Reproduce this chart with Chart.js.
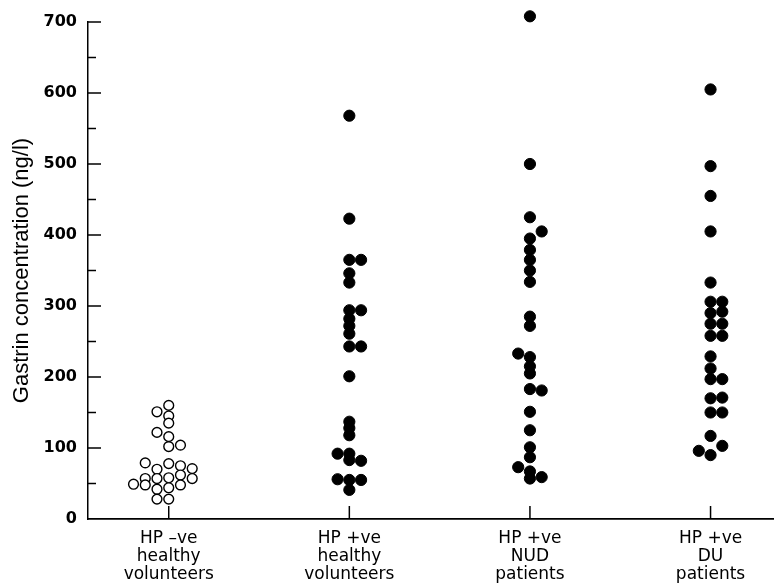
<!DOCTYPE html>
<html>
<head>
<meta charset="utf-8">
<script src="https://cdn.jsdelivr.net/npm/chart.js@4.4.0/dist/chart.umd.min.js"></script>
<style>
  body { margin: 0; background: #fff; }
  canvas { display: block; }
</style>
</head>
<body>
<canvas id="gastrinChart" width="780" height="584"></canvas>
<script>
// group labels (one entry per line)
const groupLabels = [
  ['HP \u2013ve', 'healthy', 'volunteers'],
  ['HP +ve', 'healthy', 'volunteers'],
  ['HP +ve', 'NUD', 'patients'],
  ['HP +ve', 'DU', 'patients']
];

// gastrin values (ng/l), with their column slot in the dot plot
const hpNegHealthy    = [160,151,145,135,122,116,102,104,79,78,75,70,71,62,57,57,58,57,49,48,48,42,44,28,28];
const hpNegHealthyCol = [0,-1,0,0,-1,0,0,1,-2,0,1,-1,2,1,-2,-1,0,2,-3,-2,1,-1,0,-1,0];

const hpPosHealthy    = [568,423,365,365,346,333,294,294,282,272,261,243,243,201,137,128,118,92,92,83,82,56,55,55,41];
const hpPosHealthyCol = [0,0,0,1,0,0,0,1,0,0,0,0,1,0,0,0,0,-1,0,0,1,-1,0,1,0];

const hpPosNud    = [708,500,425,405,395,379,365,350,334,285,272,233,228,215,205,183,181,151,125,101,87,73,67,57,59];
const hpPosNudCol = [0,0,0,1,0,0,0,0,0,0,0,-1,0,0,0,0,1,0,0,0,0,-1,0,0,1];

const hpPosDu    = [605,497,455,405,333,306,306,290,292,275,275,258,258,229,212,197,197,170,171,150,150,117,96,103,90];
const hpPosDuCol = [0,0,0,0,0,0,1,0,1,0,1,0,1,0,0,0,1,0,1,0,1,0,-1,1,0];

const yTicks = [0,100,200,300,400,500,600,700];

const slotWidth = 0.065;

function points(group, values, cols) {
  return values.map((v, i) => ({ x: group + cols[i] * slotWidth, y: v }));
}

const ink = '#000';

// short tick marks drawn inward from the axes
const tickMarks = {
  id: 'tickMarks',
  beforeDatasetsDraw(chart) {
    const { ctx, scales: { x, y } } = chart;
    ctx.save();
    ctx.strokeStyle = ink;
    ctx.lineWidth = 1.5;
    y.ticks.forEach(t => {
      if (t.value === 0) return;
      const py = y.getPixelForValue(t.value);
      const len = yTicks.includes(t.value) ? 13 : 8;
      ctx.beginPath();
      ctx.moveTo(x.left, py);
      ctx.lineTo(x.left + len, py);
      ctx.stroke();
    });
    x.ticks.forEach(t => {
      const px = x.getPixelForValue(t.value);
      ctx.beginPath();
      ctx.moveTo(px, y.bottom);
      ctx.lineTo(px, y.bottom - 13);
      ctx.stroke();
    });
    ctx.restore();
  }
};

const filled = { backgroundColor: ink, borderColor: ink, borderWidth: 1, pointRadius: 5.6, clip: false };

new Chart(document.getElementById('gastrinChart'), {
  type: 'scatter',
  data: {
    datasets: [
      { data: points(0, hpNegHealthy, hpNegHealthyCol), backgroundColor: '#fff', borderColor: ink, borderWidth: 1.4, pointRadius: 4.9, clip: false },
      Object.assign({ data: points(1, hpPosHealthy, hpPosHealthyCol) }, filled),
      Object.assign({ data: points(2, hpPosNud, hpPosNudCol) }, filled),
      Object.assign({ data: points(3, hpPosDu, hpPosDuCol) }, filled)
    ]
  },
  options: {
    responsive: false,
    devicePixelRatio: 1,
    animation: false,
    layout: { padding: { top: 22, right: 4, bottom: 0, left: 0 } },
    plugins: { legend: { display: false }, tooltip: { enabled: false } },
    scales: {
      x: {
        type: 'linear',
        min: -0.447,
        max: 3.348,
        afterBuildTicks: scale => { scale.ticks = groupLabels.map((l, i) => ({ value: i })); },
        afterFit: scale => { scale.height = 65; },
        grid: { display: false, drawTicks: false },
        border: { display: true, color: ink, width: 1.8 },
        ticks: {
          autoSkip: false,
          maxRotation: 0,
          padding: 10,
          color: ink,
          font: { family: 'DejaVu Sans', size: 17, lineHeight: 1.08 },
          callback: v => groupLabels[v]
        }
      },
      y: {
        min: 0,
        max: 700,
        afterFit: scale => { scale.width = 88; },
        grid: { display: false, drawTicks: false },
        border: { display: true, color: ink, width: 1.5 },
        title: {
          display: true,
          text: 'Gastrin concentration (ng/l)',
          color: ink,
          padding: { top: 9, bottom: 0 },
          font: { family: 'Liberation Sans', size: 22 }
        },
        ticks: {
          stepSize: 50,
          padding: 11,
          color: ink,
          font: { family: 'DejaVu Sans', size: 16, weight: 'bold' },
          callback: v => yTicks.includes(v) ? v : ''
        }
      }
    }
  },
  plugins: [tickMarks]
});
</script>
</body>
</html>
